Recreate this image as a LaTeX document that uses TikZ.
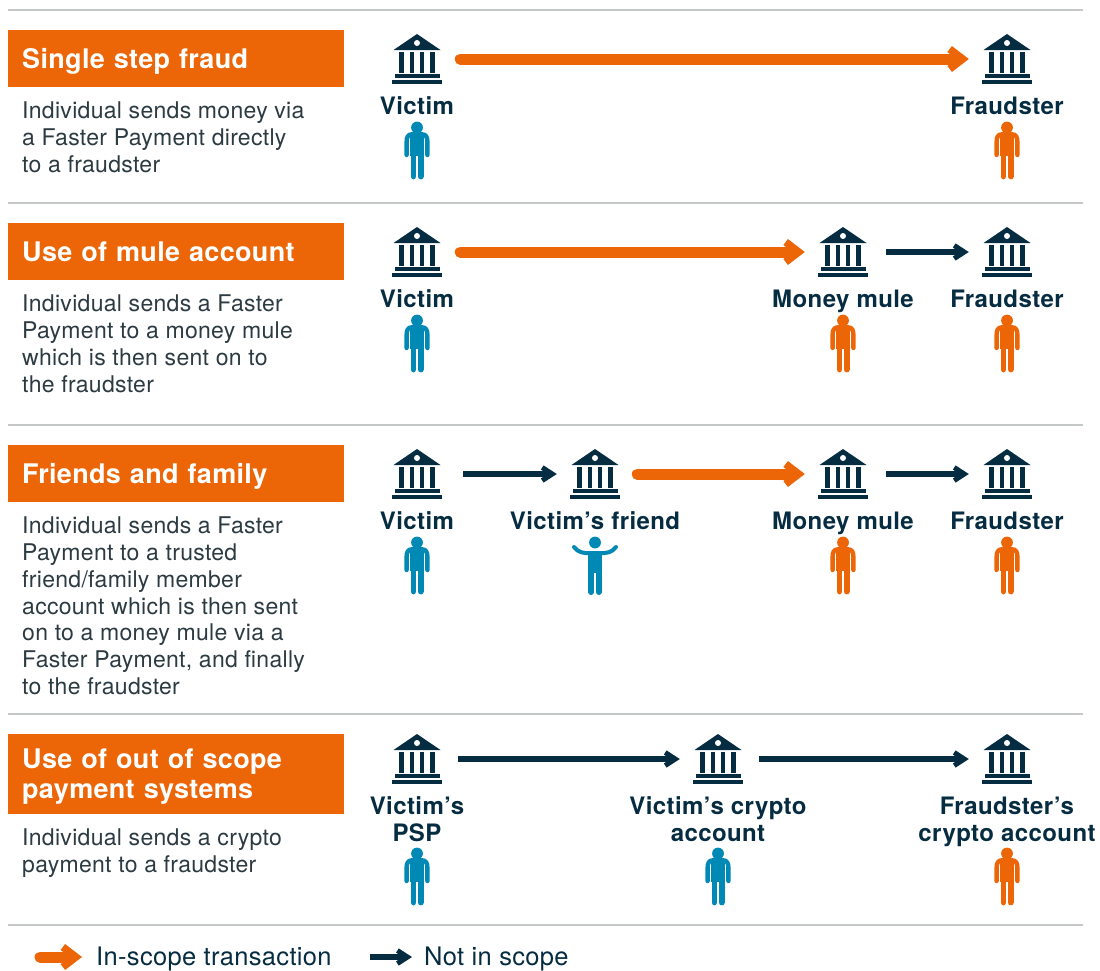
\documentclass[tikz,border=0pt]{standalone}
\usepackage{fontspec}
\setmainfont{TeX Gyre Heros}
\newfontfamily\titlefont[LetterSpace=1.2]{TeX Gyre Heros}
\newfontfamily\actorfont[LetterSpace=1.7]{TeX Gyre Heros}
\newfontfamily\bodyfont[LetterSpace=1.3]{TeX Gyre Heros}
\usetikzlibrary{arrows.meta}
\definecolor{fraudorange}{HTML}{EC6608}
\definecolor{navyink}{HTML}{062C41}
\definecolor{victimblue}{HTML}{0089B5}
\definecolor{rulegrey}{HTML}{C4C8C8}
\definecolor{bodyink}{HTML}{2C3A42}
\tikzset{
	rowrule/.style={draw=rulegrey, line width=1.2pt},
	titlebox/.style={anchor=north west, fill=fraudorange, text=white, font=\fontsize{27}{30}\titlefont\bfseries, align=left, inner xsep=14pt, inner ysep=0pt, text width=308pt, text height=25pt, text depth=6pt, minimum height=57pt},
	bodytext/.style={anchor=north west, inner sep=0pt, text=bodyink, font=\fontsize{23}{26.7}\bodyfont, align=left},
	legendtext/.style={anchor=west, inner sep=0pt, text=navyink, font=\fontsize{25.5}{30}\bodyfont, text height=23pt, text depth=6pt},
	actor/.style={text=navyink, inner sep=0pt, font=\fontsize{24}{27}\actorfont\bfseries, align=center, text height=22pt, text depth=5pt},
	bankbox/.style={minimum width=76pt, minimum height=52pt, inner sep=0pt},
	inscope/.style={draw=fraudorange, line width=11pt, line cap=round, shorten <=5pt, -{Straight Barb[sharp,length=13pt,width=20pt,line width=7.5pt]}},
	notscope/.style={draw=navyink, line width=5.5pt, shorten <=3pt, -{Straight Barb[sharp,length=10pt,width=13pt,line width=5pt]}},
	bank/.pic={
		\fill[navyink] (0,-25) -- (23.5,-9) -- (-23.5,-9) -- cycle;
		\fill[white] (0,-16) circle (3);
		\foreach \cx in {-15.5,-5.2,5.2,15.5}
			\fill[navyink] (\cx-2.2,-7.5) rectangle (\cx+2.2,13.5);
		\fill[navyink] (-22.5,15) rectangle (22.5,19.3);
		\fill[navyink] (-25,20.7) rectangle (25,25);
	},
	person/.pic={
		\fill (0,5.5) circle (5.9);
		\fill (-6.6,12) rectangle (6.6,34);
		\draw[line width=4.4pt, line cap=round] (-10.4,33) -- (-10.4,20) .. controls (-10.4,15) and (-9,12.4) .. (-5,12.3) -- (5,12.3) .. controls (9,12.4) and (10.4,15) .. (10.4,20) -- (10.4,33);
		\draw[line width=5.8pt, line cap=round] (-3.6,33) -- (-3.6,54.5) (3.6,33) -- (3.6,54.5);
	},
	shrugperson/.pic={
		\fill (0,5.5) circle (5.9);
		\fill (-7,14) rectangle (7,36);
		\draw[line width=4pt, line cap=round] (-21,10) .. controls (-17,15.5) and (-11,16.5) .. (-5,16) -- (5,16) .. controls (11,16.5) and (17,15.5) .. (21,10);
		\draw[line width=6pt, line cap=round] (-3.7,34) -- (-3.7,55) (3.7,34) -- (3.7,55);
	},
}

\begin{document}
\begin{tikzpicture}[x=1pt, y=-1pt]
	\useasboundingbox (0,0) rectangle (1100,970);
	
	%%%%% RULES %%%%%
	\draw[rowrule] (8,10) -- (1083,10);
	\draw[rowrule] (8,203) -- (1083,203);
	\draw[rowrule] (8,425) -- (1083,425);
	\draw[rowrule] (8,714) -- (1083,714);
	\draw[rowrule] (8,925) -- (1083,925);
	
	%%%%% SINGLE STEP %%%%%
	\node[titlebox] (singletitle) at (8,30) {Single step fraud};
	\node[bodytext] (singletext) at (22,102) {Individual sends money via\\a Faster Payment directly\\to a fraudster};
	\node[bankbox] (singlevictim) at (417,59) {};
	\node[bankbox] (singlefraud) at (1007,59) {};
	\pic at (singlevictim) {bank};
	\pic at (singlefraud) {bank};
	\draw[inscope] (singlevictim) -- (singlefraud);
	\node[actor] (singlevictimname) at (417,106) {Victim};
	\node[actor] (singlefraudname) at (1007,106) {Fraudster};
	\pic[victimblue] at (417,122) {person};
	\pic[fraudorange] at (1007,122) {person};
	
	%%%%% MULE %%%%%
	\node[titlebox] (muletitle) at (8,223) {Use of mule account};
	\node[bodytext] (muletext) at (22,295) {Individual sends a Faster\\Payment to a money mule\\which is then sent on to\\the fraudster};
	\node[bankbox] (mulevictim) at (417,252) {};
	\node[bankbox] (mulemule) at (843,252) {};
	\node[bankbox] (mulefraud) at (1007,252) {};
	\pic at (mulevictim) {bank};
	\pic at (mulemule) {bank};
	\pic at (mulefraud) {bank};
	\draw[inscope] (mulevictim) -- (mulemule);
	\draw[notscope, shorten <=5pt] (mulemule) -- (mulefraud);
	\node[actor] (mulevictimname) at (417,299) {Victim};
	\node[actor] (mulemulename) at (843,299) {Money mule};
	\node[actor] (mulefraudname) at (1007,299) {Fraudster};
	\pic[victimblue] at (417,315) {person};
	\pic[fraudorange] at (843,315) {person};
	\pic[fraudorange] at (1007,315) {person};
	
	%%%%% FRIENDS %%%%%
	\node[titlebox] (friendtitle) at (8,445) {Friends and family};
	\node[bodytext] (friendtext) at (22,517) {Individual sends a Faster\\Payment to a trusted\\friend/family member\\account which is then sent\\on to a money mule via a\\Faster Payment, and finally\\to the fraudster};
	\node[bankbox] (friendvictim) at (417,474) {};
	\node[bankbox] (friendfriend) at (595,474) {};
	\node[bankbox] (friendmule) at (843,474) {};
	\node[bankbox] (friendfraud) at (1007,474) {};
	\pic at (friendvictim) {bank};
	\pic at (friendfriend) {bank};
	\pic at (friendmule) {bank};
	\pic at (friendfraud) {bank};
	\draw[notscope, shorten <=8pt] (friendvictim) -- (friendfriend);
	\draw[inscope, shorten <=4pt] (friendfriend) -- (friendmule);
	\draw[notscope, shorten <=5pt] (friendmule) -- (friendfraud);
	\node[actor] (friendvictimname) at (417,521) {Victim};
	\node[actor] (friendfriendname) at (595,521) {Victim’s friend};
	\node[actor] (friendmulename) at (843,521) {Money mule};
	\node[actor] (friendfraudname) at (1007,521) {Fraudster};
	\pic[victimblue] at (417,537) {person};
	\pic[victimblue] at (595,537) {shrugperson};
	\pic[fraudorange] at (843,537) {person};
	\pic[fraudorange] at (1007,537) {person};
	
	%%%%% OUT OF SCOPE %%%%%
	\node[titlebox, text depth=36pt, minimum height=80pt] (cryptotitle) at (8,734) {Use of out of scope\\payment systems};
	\node[bodytext] (cryptotext) at (22,829) {Individual sends a crypto\\payment to a fraudster};
	\node[bankbox] (cryptovictim) at (417,759) {};
	\node[bankbox] (cryptoaccount) at (718,759) {};
	\node[bankbox] (cryptofraud) at (1007,759) {};
	\pic at (cryptovictim) {bank};
	\pic at (cryptoaccount) {bank};
	\pic at (cryptofraud) {bank};
	\draw[notscope] (cryptovictim) -- (cryptoaccount);
	\draw[notscope] (cryptoaccount) -- (cryptofraud);
	\node[actor, text height=49pt] (cryptovictimname) at (417,819) {Victim’s\\PSP};
	\node[actor, text height=49pt] (cryptoaccountname) at (718,819) {Victim’s crypto\\account};
	\node[actor, text height=49pt] (cryptofraudname) at (1007,819) {Fraudster’s\\crypto account};
	\pic[victimblue] at (417,848) {person};
	\pic[victimblue] at (718,848) {person};
	\pic[fraudorange] at (1007,848) {person};
	
	%%%%% LEGEND %%%%%
	\coordinate (inscopestart) at (35,957);
	\coordinate (inscopeend) at (82,957);
	\coordinate (notscopestart) at (367,957);
	\coordinate (notscopeend) at (412,957);
	\draw[inscope] (inscopestart) -- (inscopeend);
	\draw[notscope] (notscopestart) -- (notscopeend);
	\node[legendtext] (inscopetext) at (96,957) {In-scope transaction};
	\node[legendtext] (notscopetext) at (424,957) {Not in scope};
\end{tikzpicture}
\end{document}
